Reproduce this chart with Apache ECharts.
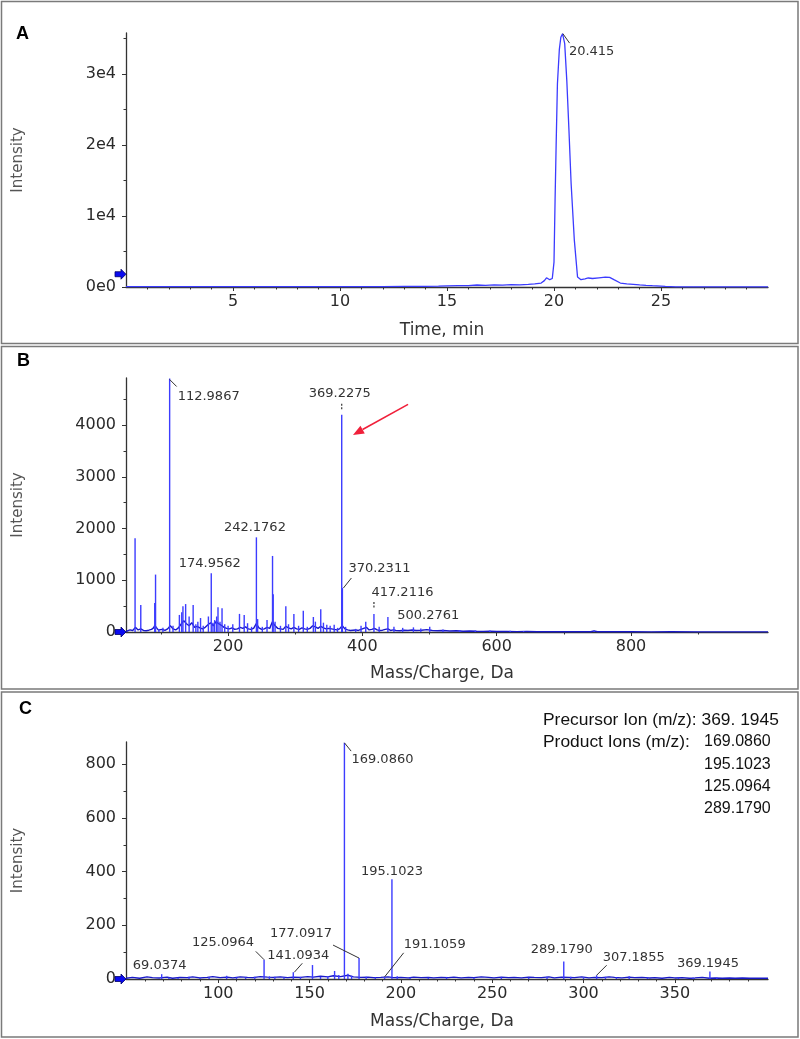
<!DOCTYPE html>
<html><head><meta charset="utf-8">
<script src="https://cdn.jsdelivr.net/npm/echarts@6/dist/echarts.min.js"></script>
<style>html,body{margin:0;padding:0;background:#fff}#c{width:800px;height:1039px}</style>
</head><body><div id="c"></div>
<script>
// ---------- Panel A: chromatogram [time(min), intensity] ----------
const chromA = [[0,60],[2,60],[4,50],[6,60],[8,60],[10,50],[12,60],[13,80],[14,90],[14.6,120],[15,150],[15.5,180],[16,200],[16.4,280],[16.8,230],[17.2,300],[17.6,260],[18,330],[18.4,300],[18.8,380],[19.1,450],[19.4,560],[19.55,900],[19.65,1300],[19.8,1030],[19.92,1200],[20.0,3500],[20.05,12200],[20.1,20000],[20.16,28600],[20.25,33500],[20.32,35200],[20.4,35700],[20.5,34300],[20.6,29000],[20.7,22000],[20.8,14600],[20.95,6600],[21.1,1400],[21.26,1030],[21.45,1150],[21.6,1270],[21.8,1200],[22.1,1300],[22.4,1400],[22.6,1350],[22.8,1030],[23.1,560],[23.4,450],[23.7,380],[24.0,300],[24.3,230],[24.6,180],[25.2,90],[25.7,30],[26.5,20],[28,20],[30,20]];
const labelsA = ['20.415'];
const xTicksA = [5,10,15,20,25];
const xMinorA = [1,2,3,4,6,7,8,9,11,12,13,14,16,17,18,19,21,22,23,24,26,27,28,29];
const yTicksA = [0,10000,20000,30000];
const yMinorA = [5000,15000,25000,35000];
const thresholdA = 1800;

// ---------- Panel B: TOF MS spectrum [m/z, intensity] ----------
const peaksB = [[61.5,1810],[70,520],[90.8,560],[92,1110],[97,60],[103,80],[112.9867,4900],[118,120],[127.5,330],[131,380],[132.8,500],[136.8,540],[142,300],[148,520],[152,150],[155,200],[159,270],[163,120],[170.7,300],[174.9562,1135],[177.5,180],[180,230],[183,300],[185,480],[188,200],[191,460],[195,150],[200,120],[207,150],[217,350],[224,330],[229,170],[235,100],[242.1762,1830],[244,250],[251,100],[258,230],[266.2,1470],[267.2,730],[270,200],[278,120],[286,500],[290,150],[298,350],[305,120],[312,410],[318,100],[327,290],[330,200],[338,440],[342,180],[347,140],[352,120],[358,140],[363,80],[369.2275,4200],[370.2311,850],[375,100],[390,60],[398,120],[405,200],[417.2116,350],[425,100],[438,290],[447,100],[460,80],[476,90],[487,70],[500.2761,100],[520,50],[545,40],[568,30],[590,30],[620,25],[640,20],[745,25]];
const noiseB = [[48,10],[50,20],[54,40],[58,30],[62,90],[66,40],[70,60],[74,30],[78,25],[82,35],[86,50],[89,80],[91,130],[93,90],[96,40],[98,40],[102,50],[106,30],[110,60],[114,120],[118,60],[122,40],[126,80],[130,150],[134,220],[138,160],[142,120],[146,180],[150,90],[154,110],[158,80],[162,60],[166,90],[170,140],[174,180],[178,120],[182,200],[186,160],[190,130],[194,90],[198,70],[202,60],[206,80],[210,50],[214,60],[218,90],[222,70],[226,100],[230,60],[234,50],[238,70],[242,160],[246,80],[250,50],[254,60],[258,90],[262,70],[266,200],[270,120],[274,70],[278,60],[282,50],[286,110],[290,80],[294,60],[298,90],[302,60],[306,50],[310,80],[314,60],[318,50],[322,70],[326,120],[330,100],[334,70],[338,110],[342,80],[346,60],[350,70],[354,60],[358,50],[362,40],[366,60],[370,120],[374,60],[378,40],[382,30],[386,35],[390,40],[394,30],[398,50],[402,70],[406,90],[410,40],[414,50],[418,70],[422,40],[426,30],[430,35],[434,50],[438,60],[442,30],[446,40],[450,30],[456,25],[462,35],[468,30],[474,40],[480,30],[488,35],[496,45],[504,30],[512,25],[520,30],[530,20],[540,25],[550,15],[560,20],[570,15],[580,12],[590,15],[600,10],[615,12],[630,8],[645,10],[660,6],[680,5],[700,5],[720,6],[740,5],[745,20],[750,5],[770,4],[800,4],[830,3],[860,4],[900,3],[940,3],[980,3],[1004,3]];
const labelsB = ['112.9867','174.9562','242.1762','369.2275','370.2311','417.2116','500.2761'];
const xTicksB = [200,400,600,800];
const xMinorB = [100,300,500,700,900];
const yTicksB = [0,1000,2000,3000,4000];
const yMinorB = [500,1500,2500,3500,4500];
const redArrowB = {from:[468,4400], to:[386,3810]};

// ---------- Panel C: MS/MS spectrum [m/z, intensity] ----------
const peaksC = [[69.0374,18],[73,6],[78,5],[84,8],[90,5],[95,7],[104.6,12],[110,6],[115,5],[120,8],[125.0964,72],[128,10],[131,8],[136,6],[141.0934,25],[145,8],[151.6,52],[156,8],[160,10],[163.7,30],[166,15],[169.086,880],[171,20],[173,12],[177.0917,78],[181,8],[186,6],[191.1059,8],[195.1023,372],[198,10],[205,6],[215,5],[225,6],[240,5],[255,6],[270,6],[280,8],[289.179,65],[293,8],[300,6],[307.1855,14],[312,8],[318,6],[325,10],[335,5],[352,5],[360,6],[369.1945,28],[373,6]];
const noiseC = [[49.5,3],[53,6],[57,3],[61,8],[64,5],[68,4],[72,7],[75,3],[79,6],[83,5],[86,8],[90,4],[94,6],[97,9],[101,5],[105,7],[108,4],[112,8],[116,6],[119,5],[123,9],[127,7],[130,6],[134,8],[138,5],[141,7],[145,6],[149,9],[152,7],[156,10],[160,8],[163,12],[167,9],[171,14],[174,8],[178,6],[182,7],[185,5],[189,6],[193,8],[196,5],[200,6],[204,4],[207,7],[211,5],[215,6],[218,4],[222,6],[226,5],[229,7],[233,4],[237,6],[240,5],[244,8],[248,6],[251,4],[255,7],[259,5],[262,6],[266,4],[270,7],[273,6],[277,5],[281,8],[284,4],[288,7],[292,6],[295,5],[299,8],[303,4],[306,6],[310,5],[314,8],[317,6],[321,4],[325,7],[328,5],[332,6],[336,4],[339,5],[343,3],[347,6],[350,4],[354,5],[358,3],[361,4],[365,6],[369,3],[372,4],[376,3],[380,4],[383,3],[387,4],[391,3],[394,3],[398,3],[401,3]];
const labelsC = ['169.0860','195.1023','125.0964','141.0934','177.0917','191.1059','289.1790','307.1855','369.1945','69.0374'];
const xTicksC = [100,150,200,250,300,350];
const xMinorC = [60,70,80,90,110,120,130,140,160,170,180,190,210,220,230,240,260,270,280,290,310,320,330,340,360,370,380,390];
const yTicksC = [0,200,400,600,800];
const yMinorC = [100,300,500,700];
const infoLines = [['Precursor Ion (m/z): 369. 1945',''],['Product Ions (m/z): ','169.0860'],['','195.1023'],['','125.0964'],['','289.1790']];

// ---------- styling / layout (not data) ----------
const TF = 'DejaVu Sans';
const AX = '#333';
const STICK = '#3c3cff';
const layoutA = {'20.415':{dx:6,dy:18,align:'left',lead:[0,0,6.7,9.4]}};
const layoutB = {
 '112.9867':{dx:8,dy:18,align:'left',lead:[0,1,7,8]},
 '174.9562':{dx:-1.5,dy:-10},
 '242.1762':{dx:-1.5,dy:-9.5},
 '369.2275':{dx:-2,dy:-21,dash:[-11,-4]},
 '370.2311':{dx:6,dy:-19,align:'left',lead:[1,0,9,-10]},
 '417.2116':{dx:28.5,dy:-21,dash:[-12,-6]},
 '500.2761':{dx:-1.5,dy:-11}
};
const layoutC = {
 '169.0860':{dx:7,dy:17,align:'left',lead:[0,0,6.7,8.3]},
 '195.1023':{dx:0,dy:-8},
 '125.0964':{dx:-10,dy:-17,align:'right',lead:[-8.3,-8.3,0,0]},
 '141.0934':{dx:5,dy:-16.5,lead:[1,0,9,-9]},
 '177.0917':{dx:-27,dy:-24,align:'right',lead:[-26,-13,0,0]},
 '191.1059':{dx:19,dy:-32,align:'left',lead:[0,0,19,-24]},
 '289.1790':{dx:-2,dy:-12},
 '307.1855':{dx:6,dy:-18,align:'left',lead:[0,0,10,-10]},
 '369.1945':{dx:-2,dy:-8},
 '69.0374':{dx:-2,dy:-9}
};

function xAxes(g, min, max, major, minor, name, gap, fmt) {
  return [{
    gridIndex:g, type:'value', min:min, max:max, position:'bottom',
    axisLine:{show:true,onZero:false,lineStyle:{color:AX,width:1.3}},
    axisTick:{show:true,length:4,customValues:major,lineStyle:{color:AX}},
    axisLabel:{customValues:major,color:'#2a2a2a',fontSize:16,fontFamily:TF,margin:7,formatter:fmt||(v=>String(v))},
    splitLine:{show:false},
    name:name, nameLocation:'middle', nameGap:gap,
    nameTextStyle:{color:'#333',fontSize:17,fontFamily:TF,padding:[0,10,0,0]}
  },{
    gridIndex:g, type:'value', min:min, max:max, position:'bottom',
    axisLine:{show:false}, axisLabel:{show:false}, splitLine:{show:false},
    axisTick:{show:true,length:2.5,customValues:minor,lineStyle:{color:AX}}
  }];
}
function yAxes(g, max, major, minor, fmt) {
  return [{
    gridIndex:g, type:'value', min:0, max:max, position:'left',
    axisLine:{show:true,onZero:false,lineStyle:{color:AX,width:1.3}},
    axisTick:{show:true,length:4,customValues:major,lineStyle:{color:AX}},
    axisLabel:{customValues:major,color:'#2a2a2a',fontSize:16,fontFamily:TF,margin:10,formatter:fmt||(v=>String(v))},
    splitLine:{show:false},
    name:'Intensity', nameLocation:'middle', nameGap:100,
    nameTextStyle:{color:'#555',fontSize:15,fontFamily:TF}
  },{
    gridIndex:g, type:'value', min:0, max:max, position:'left',
    axisLine:{show:false}, axisLabel:{show:false}, splitLine:{show:false},
    axisTick:{show:true,length:2.5,customValues:minor,lineStyle:{color:AX}}
  }];
}

const chart = echarts.init(document.getElementById('c'), null, {renderer:'canvas', width:800, height:1039});
const option = {
  animation:false,
  backgroundColor:'#fff',
  grid:[
    {left:126, top:33, width:642, height:254},
    {left:126, top:378, width:642, height:254},
    {left:126, top:742, width:642, height:237}
  ],
  xAxis:[].concat(
    xAxes(0, 0, 30, xTicksA, xMinorA, 'Time, min', 35),
    xAxes(1, 48, 1004, xTicksB, xMinorB, 'Mass/Charge, Da', 33),
    xAxes(2, 49.5, 401, xTicksC, xMinorC, 'Mass/Charge, Da', 34)
  ),
  yAxis:[].concat(
    yAxes(0, 35800, yTicksA, yMinorA, v => v === 0 ? '0e0' : (v/10000) + 'e4'),
    yAxes(1, 4910, yTicksB, yMinorB),
    yAxes(2, 883, yTicksC, yMinorC)
  ),
  series:[
    {type:'line', xAxisIndex:0, yAxisIndex:0, data:chromA, symbol:'none', lineStyle:{color:'#3b3bff',width:1.3}},
    {type:'line', xAxisIndex:2, yAxisIndex:2, data:noiseB, symbol:'none', lineStyle:{color:'#1818c8',width:1.4}, z:3},
    {type:'bar', xAxisIndex:2, yAxisIndex:2, data:peaksB, barWidth:1.4, itemStyle:{color:STICK}, z:4},
    {type:'line', xAxisIndex:4, yAxisIndex:4, data:noiseC, symbol:'none', lineStyle:{color:'#1818c8',width:1.4}, z:3},
    {type:'bar', xAxisIndex:4, yAxisIndex:4, data:peaksC, barWidth:1.4, itemStyle:{color:STICK}, z:4}
  ]
};
chart.setOption(option);

function px(ax, pt) { return chart.convertToPixel({xAxisIndex:ax, yAxisIndex:ax}, pt); }
function nearest(peaks, v) {
  let best = peaks[0];
  peaks.forEach(p => { if (Math.abs(p[0]-v) < Math.abs(best[0]-v)) best = p; });
  return best;
}
const G = [];
function addLabels(ax, peaks, labels, layout) {
  labels.forEach(t => {
    const p = nearest(peaks, parseFloat(t));
    const a = px(ax, p);
    const L = layout[t] || {dx:0, dy:-10};
    G.push({type:'text', x:a[0]+L.dx, y:a[1]+L.dy, z:100,
      style:{text:t, font:'13px "DejaVu Sans"', fill:'#333', align:L.align||'center', verticalAlign:'middle'}});
    if (L.lead) G.push({type:'line', z:100, shape:{x1:a[0]+L.lead[0], y1:a[1]+L.lead[1], x2:a[0]+L.lead[2], y2:a[1]+L.lead[3]}, style:{stroke:'#333', lineWidth:1}});
    if (L.dash) G.push({type:'line', z:100, shape:{x1:a[0], y1:a[1]+L.dash[0], x2:a[0], y2:a[1]+L.dash[1]}, style:{stroke:'#333', lineWidth:1.2, lineDash:[2,1.5]}});
  });
}
const topA = chromA.reduce((m, p) => p[1] > m[1] ? p : m, chromA[0]);
addLabels(0, [[parseFloat(labelsA[0]), topA[1]]], labelsA, layoutA);
addLabels(2, peaksB, labelsB, layoutB);
addLabels(4, peaksC, labelsC, layoutC);

function blueArrow(ax, xv, yv) {
  const a = px(ax, [xv, yv]);
  const x = a[0], y = a[1];
  G.push({type:'polygon', z:110, shape:{points:[[x,y],[x-5,y-5],[x-5,y-2.5],[x-11,y-2.5],[x-11,y+2.5],[x-5,y+2.5],[x-5,y+5]]},
    style:{fill:'#0a0af0', stroke:'#00006a', lineWidth:0.8}});
}
blueArrow(0, 0, thresholdA);
blueArrow(2, 48, 0);
blueArrow(4, 49.5, 0);

(function(){
  const f = px(2, redArrowB.from), t = px(2, redArrowB.to);
  const dx = t[0]-f[0], dy = t[1]-f[1], len = Math.hypot(dx,dy), ux = dx/len, uy = dy/len;
  const bx = t[0]-ux*11, by = t[1]-uy*11;
  G.push({type:'line', z:100, shape:{x1:f[0], y1:f[1], x2:bx, y2:by}, style:{stroke:'#f0203a', lineWidth:1.6}});
  G.push({type:'polygon', z:100, shape:{points:[[t[0],t[1]],[bx-uy*4.5,by+ux*4.5],[bx+uy*4.5,by-ux*4.5]]}, style:{fill:'#f0203a'}});
})();

[[1.5,1.5,796.5,342],[1.5,346.5,796.5,342.5],[1.5,692,796.5,345]].forEach(r => {
  G.push({type:'rect', z:90, shape:{x:r[0], y:r[1], width:r[2], height:r[3]}, style:{fill:'none', stroke:'#7a7a7a', lineWidth:1.5}});
});
[['A',16,34],['B',17,361.5],['C',19,709]].forEach(l => {
  G.push({type:'text', x:l[1], y:l[2], z:100, style:{text:l[0], font:'bold 18px "Liberation Sans"', fill:'#000', align:'left', verticalAlign:'middle'}});
});
const infoY = [720, 742, 765, 787, 809];
infoLines.forEach((ln, i) => {
  if (ln[0]) G.push({type:'text', x:543, y:infoY[i], z:100, style:{text:ln[0], font:'17.4px "Liberation Sans"', fill:'#111', align:'left', verticalAlign:'middle'}});
  if (ln[1]) G.push({type:'text', x:704, y:infoY[i], z:100, style:{text:ln[1], font:'16px "Liberation Sans"', fill:'#111', align:'left', verticalAlign:'middle'}});
});
chart.setOption({graphic:{elements:G}});
</script>
</body></html>
